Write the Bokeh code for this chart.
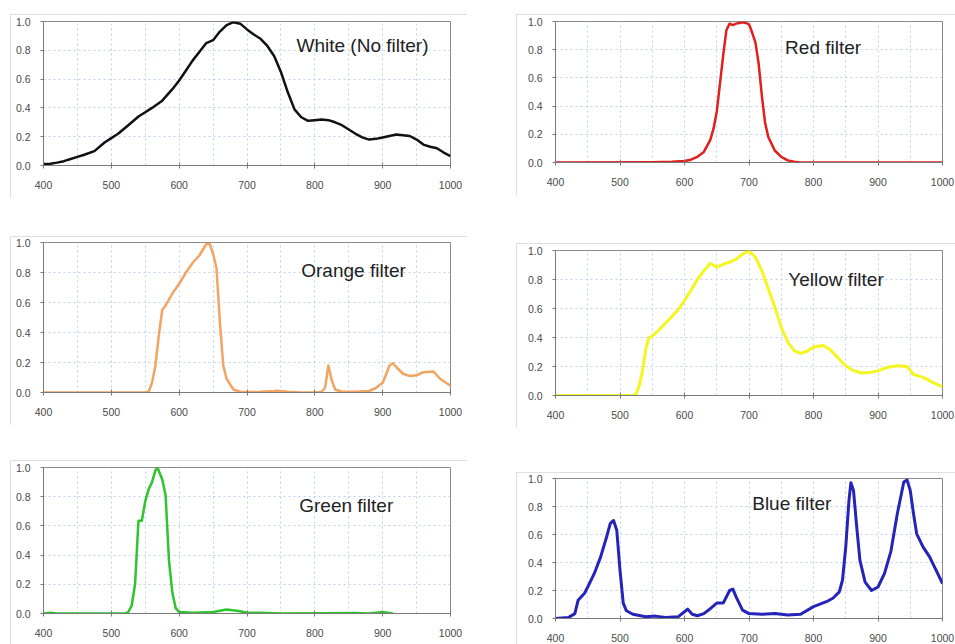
from bokeh.plotting import figure
from bokeh.layouts import row, column
from bokeh.models import Range1d, FixedTicker, Label, Spacer, PrintfTickFormatter
from bokeh.embed import file_html
from bokeh.resources import INLINE

# ---------------- data ----------------
white_x = [400,410,420,430,440,450,460,475,490,500,510,525,540,550,560,575,590,600,610,620,
           630,640,650,660,670,680,690,700,710,720,730,740,750,760,770,780,790,800,810,820,
           830,840,850,860,870,880,890,900,910,920,930,940,950,960,970,980,990,1000]
white_y = [0.01,0.012,0.02,0.03,0.045,0.06,0.075,0.10,0.16,0.19,0.22,0.28,0.34,0.37,0.40,0.45,0.53,0.59,0.66,0.73,
           0.79,0.85,0.87,0.93,0.975,0.995,0.985,0.945,0.91,0.88,0.83,0.76,0.65,0.51,0.39,0.335,0.31,0.315,0.32,0.315,
           0.30,0.28,0.25,0.22,0.195,0.18,0.185,0.195,0.205,0.215,0.21,0.205,0.18,0.145,0.13,0.12,0.09,0.065]

red_x = [400,550,580,600,610,620,630,640,645,650,655,660,665,670,675,680,685,690,695,700,
         705,710,715,720,725,730,740,750,760,770,780,800,1000]
red_y = [0,0.002,0.005,0.01,0.02,0.04,0.075,0.16,0.24,0.36,0.56,0.76,0.94,0.985,0.975,0.985,0.99,0.995,0.99,0.98,
         0.92,0.85,0.70,0.47,0.28,0.18,0.085,0.04,0.015,0.005,0,0,0]

orange_x = [400,550,555,560,565,570,575,580,590,600,610,620,630,640,645,650,655,660,665,670,
            680,690,700,720,740,745,760,780,800,810,815,820,825,830,840,860,880,890,900,905,
            910,915,920,930,940,950,960,975,985,1000]
orange_y = [0,0,0.005,0.065,0.18,0.38,0.55,0.58,0.66,0.725,0.80,0.865,0.915,0.99,0.99,0.925,0.83,0.47,0.18,0.09,
            0.02,0.005,0.003,0.005,0.01,0.012,0.005,0,0,0.005,0.03,0.18,0.08,0.02,0.005,0.005,0.01,0.03,0.065,0.12,
            0.18,0.195,0.17,0.125,0.11,0.115,0.135,0.14,0.09,0.045]

yellow_x = [400,520,525,530,535,540,545,550,560,575,590,600,610,620,630,640,650,660,670,680,
            690,700,710,720,730,740,750,760,770,780,790,800,815,825,840,850,860,875,890,900,
            915,930,945,955,970,985,1000]
yellow_y = [0,0,0.01,0.07,0.17,0.32,0.40,0.41,0.45,0.52,0.59,0.655,0.725,0.80,0.86,0.91,0.885,0.905,0.92,0.94,
            0.975,0.995,0.955,0.86,0.735,0.61,0.47,0.37,0.31,0.29,0.305,0.335,0.345,0.32,0.25,0.205,0.175,0.155,0.16,0.17,
            0.195,0.205,0.20,0.145,0.125,0.09,0.06]

green_x = [400,410,420,520,525,530,535,540,545,550,555,560,565,568,575,580,585,590,595,600,
           620,650,670,690,700,720,750,860,880,900,915]
green_y = [0,0.005,0,0,0.01,0.055,0.20,0.635,0.635,0.77,0.85,0.90,0.98,1.0,0.92,0.81,0.36,0.14,0.035,0.01,
           0.005,0.01,0.028,0.015,0.005,0.005,0,0.003,0,0.01,0]

blue_x = [400,420,430,435,440,445,450,460,470,480,485,490,495,500,505,510,520,540,555,570,
          590,600,605,612,620,630,640,650,660,670,675,680,690,700,720,740,760,780,800,820,
          830,840,845,850,855,858,862,867,872,880,890,900,910,920,930,940,945,950,955,960,
          970,980,990,1000]
blue_y = [0,0.007,0.035,0.13,0.155,0.18,0.225,0.32,0.44,0.595,0.68,0.70,0.63,0.345,0.11,0.055,0.03,0.012,0.017,0.007,
          0.012,0.048,0.067,0.03,0.02,0.035,0.07,0.11,0.11,0.20,0.21,0.155,0.06,0.035,0.03,0.035,0.025,0.03,0.085,0.12,
          0.145,0.19,0.275,0.51,0.845,0.97,0.915,0.655,0.415,0.26,0.20,0.225,0.32,0.48,0.75,0.975,0.99,0.915,0.75,0.605,
          0.51,0.44,0.345,0.25]

x_ticks = [400, 500, 600, 700, 800, 900, 1000]
y_ticks = [0.0, 0.2, 0.4, 0.6, 0.8, 1.0]
x_grid = [450, 500, 550, 600, 650, 700, 750, 800, 850, 900, 950]
y_grid = [0.2, 0.4, 0.6, 0.8]


def panel(xs, ys, color, title, tx, ty, w, h, bl, bt, br, bb, lw=2.5):
    p = figure(width=w, height=h, output_backend="svg", toolbar_location=None,
               x_range=Range1d(400, 1000), y_range=Range1d(0, 1),
               min_border_left=bl, min_border_top=bt, min_border_right=br, min_border_bottom=bb,
               background_fill_color="white", border_fill_color="white",
               outline_line_color="#8a8a8a", outline_line_width=1)
    p.styles = {"outline": "1px solid #d4d4d4", "outline-offset": "-1px"}
    p.xaxis.ticker = FixedTicker(ticks=x_ticks)
    p.yaxis.ticker = FixedTicker(ticks=y_ticks)
    p.yaxis.formatter = PrintfTickFormatter(format="%.1f")
    for ax in (p.xaxis[0], p.yaxis[0]):
        ax.axis_line_color = "#7a7a7a"
        ax.major_tick_line_color = "#7a7a7a"
        ax.minor_tick_line_color = None
        ax.major_label_text_font = "Liberation Sans"
        ax.major_label_text_font_size = "10.5px"
        ax.major_label_text_color = "#4a4a4a"
    p.xaxis.major_tick_in = 3
    p.xaxis.major_tick_out = 3
    p.yaxis.major_tick_in = 0
    p.yaxis.major_tick_out = 3
    p.xaxis.major_label_standoff = 12
    p.yaxis.major_label_standoff = 10
    p.xgrid.ticker = FixedTicker(ticks=x_grid)
    p.ygrid.ticker = FixedTicker(ticks=y_grid)
    for g in (p.xgrid[0], p.ygrid[0]):
        g.grid_line_color = "#bcd2ec"
        g.grid_line_dash = "2 3"
        g.grid_line_width = 1
    p.line(xs, ys, line_color=color, line_width=lw, line_join="round")
    p.add_layout(Label(x=tx, y=ty, text=title, text_font="Liberation Sans",
                       text_font_size="19px", text_color="#222222", text_baseline="middle"))
    return p


p1 = panel(white_x, white_y, "#111111", "White (No filter)", 773, 0.833, 457, 184, 33, 7, 14, 33)
p3 = panel(orange_x, orange_y, "#f2a462", "Orange filter", 780, 0.813, 457, 189, 33, 6, 15, 33)
p5 = panel(green_x, green_y, "#2ec42e", "Green filter", 777, 0.74, 457, 184, 33, 7, 17, 31)
p2 = panel(red_x, red_y, "#e0201c", "Red filter", 756, 0.816, 439, 181, 32, 7, 13, 33)
p4 = panel(yellow_x, yellow_y, "#f5f522", "Yellow filter", 761, 0.80, 439, 185, 33, 7, 10, 33, lw=3)
p6 = panel(blue_x, blue_y, "#2424b8", "Blue filter", 705, 0.82, 439, 172, 39, 6, 13, 26, lw=3)

left = column(Spacer(height=14), p1, Spacer(height=38), p3, Spacer(height=35), p5, spacing=0)
right = column(Spacer(height=14), p2, Spacer(height=48), p4, Spacer(height=44), p6, spacing=0)
layout = row(Spacer(width=10), left, Spacer(width=49), right, spacing=0)

open("out.html", "w").write(file_html(layout, INLINE))
